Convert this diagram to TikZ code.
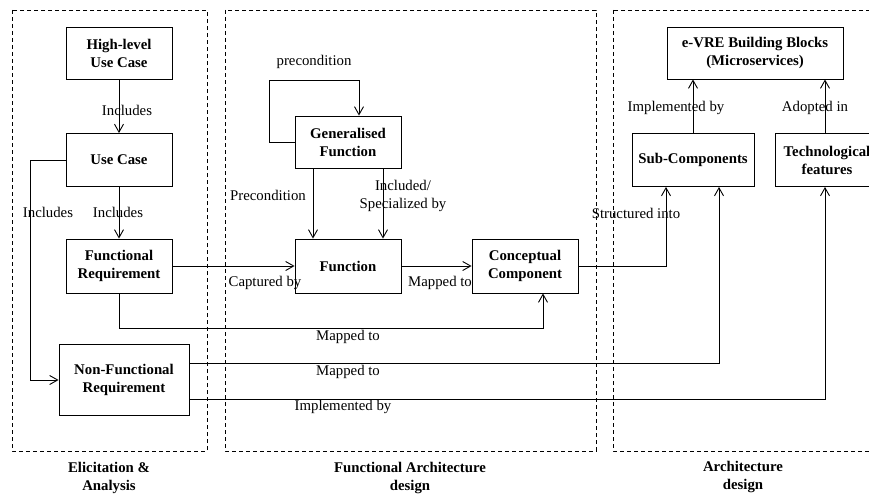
\documentclass[tikz,border=0pt]{standalone}
\usepackage{fontspec}
\setmainfont{Liberation Serif}
\usetikzlibrary{arrows.meta,positioning}

\begin{document}
\begin{tikzpicture}[x=1pt,y=-1pt,font=\fontsize{14.8}{18}\selectfont,
  block/.style={draw,line width=0.9pt,align=center,font=\fontsize{14.8}{18}\selectfont\bfseries,inner sep=0pt},
  panel/.style={draw,line width=0.8pt,dash pattern=on 4pt off 3pt},
  lbl/.style={inner sep=0pt,align=center},
  arr/.style={line width=0.9pt,-{Straight Barb[length=8pt,width=9pt]}}]
\useasboundingbox (0,0) rectangle (869,495);
% panels
\draw[panel] (12,10) rectangle (207,451);
\draw[panel] (225,10) rectangle (596,451);
\draw[panel] (613,10) rectangle (885,451);
\node[lbl,font=\fontsize{14.8}{18}\selectfont\bfseries] (elic) at (109,478) {Elicitation \&\\Analysis};
\node[lbl,font=\fontsize{14.8}{18}\selectfont\bfseries] (funcarch) at (410,478) {Functional Architecture\\design};
\node[lbl,font=\fontsize{14.8}{18}\selectfont\bfseries] (arch) at (743,477) {Architecture\\design};
% blocks
\node[block,minimum width=106pt,minimum height=52pt] (hluc) at (119,53) {High-level\\Use Case};
\node[block,minimum width=106pt,minimum height=53pt] (uc) at (119,160) {Use Case};
\node[block,minimum width=106pt,minimum height=54pt] (fr) at (119,266) {Functional\\Requirement};
\node[block,minimum width=130pt,minimum height=71pt] (nfr) at (124,380) {Non-Functional\\Requirement};
\node[block,minimum width=106pt,minimum height=52pt] (gf) at (348,142) {Generalised\\Function};
\node[block,minimum width=106pt,minimum height=54pt] (fn) at (348,266) {Function};
\node[block,minimum width=106pt,minimum height=54pt] (cc) at (525,266) {Conceptual\\Component};
\node[block,minimum width=176pt,minimum height=52pt] (evre) at (755,53) {e-VRE Building Blocks\\(Microservices)};
\node[block,minimum width=122pt,minimum height=53pt] (sub) at (693,160) {Sub-Components};
\node[block,minimum width=104pt,minimum height=53pt] (tech) at (827,160) {Technological\\features};
% elicitation links
\draw[arr] (hluc) -- (uc) node[lbl] at (127,110) {Includes};
\draw[arr] (uc) -- (fr) node[lbl] at (118,212) {Includes};
\draw[arr] (uc.west) -- ++(-35,0) |- (nfr.west) node[lbl] at (48,212) {Includes};
% functional links
\draw[arr] (fr) -- (fn) node[lbl] at (265,283) {Captured by};
\draw[arr] (fn) -- (cc) node[lbl] at (440,283) {Mapped to};
\draw[arr] (fr.south) -- ++(0,35) -| ([xshift=18pt]cc.south) node[lbl] at (348,337) {Mapped to};
\draw[arr] (gf.west) -- ++(-25,0) -- ++(0,-62) -| ([xshift=11pt]gf.north) node[lbl] at (314,62) {precondition};
\draw[arr] ([xshift=-35pt]gf.south) -- ([xshift=-35pt]fn.north) node[lbl] at (268,195) {Precondition};
\draw[arr] ([xshift=35pt]gf.south) -- ([xshift=35pt]fn.north) node[lbl] at (403,196) {Included/\\Specialized by};
% architecture links
\draw[arr] ([yshift=17pt]nfr.east) -| ([xshift=26pt]sub.south) node[lbl] at (348,372) {Mapped to};
\draw[arr] ([yshift=-19pt]nfr.east) -| ([xshift=-2pt]tech.south) node[lbl] at (343,407) {Implemented by};
\draw[arr] (cc.east) -| ([xshift=-27pt]sub.south) node[lbl] at (636,213) {Structured into};
\draw[arr] (sub.north) -- (sub.north |- evre.south) node[lbl] at (676,108) {Implemented by};
\draw[arr] ([xshift=-2pt]tech.north) -- ([xshift=-2pt]tech.north |- evre.south) node[lbl] at (815,108) {Adopted in};
\end{tikzpicture}
\end{document}
